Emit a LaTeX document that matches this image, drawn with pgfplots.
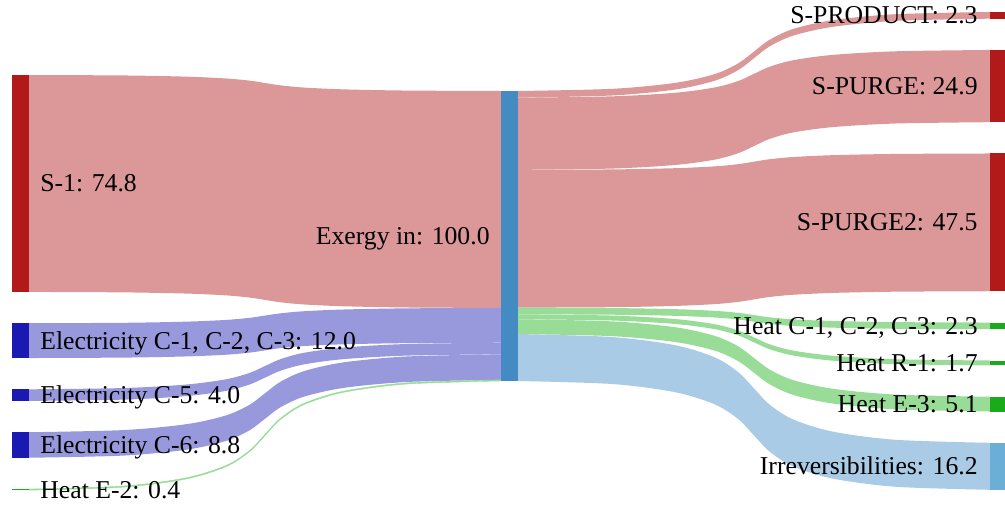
\documentclass[border=0pt]{standalone}
\usepackage{pgfplots}
\pgfplotsset{compat=1.18}
\usepackage{pgfplotstable}
\usepgfplotslibrary{fillbetween}
\usepackage{fontspec}
\setmainfont{Liberation Serif}
\definecolor{redlink}{HTML}{DC9898}
\definecolor{bluelink}{HTML}{9898DC}
\definecolor{greenlink}{HTML}{98DC98}
\definecolor{irrlink}{HTML}{AACBE5}
\definecolor{rednode}{HTML}{B21A1A}
\definecolor{bluenode}{HTML}{1A1AB2}
\definecolor{greennode}{HTML}{1AAA1A}
\definecolor{midnode}{HTML}{448BC3}
\definecolor{irrnode}{HTML}{6BAED6}
\newcommand{\lab}{\fontsize{12.85pt}{15pt}\selectfont}

% incoming links: x, top and bottom edge of each band (pixel units, y downward)
\pgfplotstableread{
x     s1t   s1b    e1t    e1b    e5t    e5b    e6t    e6b    h2t    h2b
29    75    291.92 323.22 358.02 389.32 400.92 432.22 457.74 489.04 490.20
123.8 75.45 292.37 322.79 357.59 388.02 399.62 430.04 455.56 485.98 487.14
186.8 76.66 293.58 321.63 356.43 384.47 396.07 424.12 449.64 477.68 478.84
226.1 78.46 295.38 319.92 354.72 379.25 390.85 415.39 440.91 465.45 466.61
249.5 80.63 297.55 317.83 352.63 372.92 384.52 404.80 430.32 450.60 451.76
265   83.00 299.92 315.57 350.37 366.02 377.62 393.27 418.79 434.44 435.60
280.5 85.37 302.29 313.31 348.11 359.12 370.72 381.74 407.26 418.28 419.44
303.9 87.54 304.46 311.22 346.02 352.79 364.39 371.15 396.67 403.43 404.59
343.2 89.34 306.26 309.51 344.31 347.57 359.17 362.42 387.94 391.20 392.36
406.2 90.55 307.47 308.35 343.15 344.02 355.62 356.50 382.02 382.90 384.06
501   91.00 307.92 307.92 342.72 342.72 354.32 354.32 379.84 379.84 381.00
}\inflows

% outgoing links
\pgfplotstableread{
x     pt    pb    gt    gb     qt     qb     ct     cb     rt     rb     et     eb     it     ib
518   91.00 97.67 97.67 169.88 169.88 307.63 307.63 314.30 314.30 319.23 319.23 334.02 334.02 381.00
612.8 88.79 95.46 96.33 168.54 169.42 307.17 308.05 314.72 315.59 320.52 321.40 336.19 337.07 384.05
675.8 82.78 89.45 92.71 164.92 168.17 305.92 309.18 315.85 319.10 324.03 327.29 342.08 345.34 392.32
715.1 73.94 80.61 87.37 159.58 166.34 304.09 310.85 317.52 324.28 329.21 335.97 350.76 357.52 404.50
738.5 63.19 69.86 80.88 153.09 164.11 301.86 312.87 319.54 330.56 335.49 346.51 361.30 372.32 419.30
754   51.50 58.17 73.82 146.03 161.68 299.43 315.08 321.75 337.40 342.33 357.98 372.77 388.42 435.40
769.5 39.81 46.48 66.76 138.97 159.25 297.00 317.29 323.96 344.24 349.17 369.45 384.24 404.52 451.50
792.9 29.06 35.73 60.27 132.48 157.02 294.77 319.31 325.98 350.52 355.45 379.99 394.78 419.32 466.30
832.2 20.22 26.89 54.93 127.14 155.19 292.94 320.98 327.65 355.70 360.63 388.67 403.46 431.50 478.48
895.2 14.21 20.88 51.31 123.52 153.94 291.69 322.11 328.78 359.21 364.14 394.56 409.35 439.77 486.75
990   12.00 18.67 49.97 122.18 153.48 291.23 322.53 329.20 360.50 365.43 396.73 411.52 442.82 489.80
}\outflows

\newcommand{\band}[3]{%
  \addplot[name path=#1top, draw=none, smooth, forget plot] table[x=x, y=#1t] {#2};
  \addplot[name path=#1bot, draw=none, smooth, forget plot] table[x=x, y=#1b] {#2};
  \addplot[fill=#3, draw=none, forget plot] fill between[of=#1top and #1bot];
}
\newcommand{\nodebox}[5]{%
  \addplot[fill=#5, draw=none, forget plot] coordinates {(#1,#3) (#2,#3) (#2,#4) (#1,#4)} -- cycle;
}

\begin{document}
\begin{tikzpicture}
\begin{axis}[
  scale only axis, width=502.5pt, height=252.5pt,
  xmin=0, xmax=1005, ymin=0, ymax=505, y dir=reverse,
  hide axis, clip=false,
]
\addplot[draw=none, forget plot] coordinates {(0,0) (1005,505)};
% links
\band{s1}{\inflows}{redlink}
\band{e1}{\inflows}{bluelink}
\band{e5}{\inflows}{bluelink}
\band{e6}{\inflows}{bluelink}
\addplot[name path=h2top, draw=none, smooth, forget plot] table[x=x, y=h2t] {\inflows};
\addplot[name path=h2bot, draw=none, smooth, forget plot] table[x=x, y=h2b] {\inflows};
\addplot[fill=greenlink, draw=greenlink, line width=0.2pt, forget plot] fill between[of=h2top and h2bot];
\band{p}{\outflows}{redlink}
\band{g}{\outflows}{redlink}
\band{q}{\outflows}{redlink}
\band{c}{\outflows}{greenlink}
\band{r}{\outflows}{greenlink}
\band{e}{\outflows}{greenlink}
\band{i}{\outflows}{irrlink}
% nodes
\nodebox{12}{29}{75}{291.92}{rednode}
\nodebox{12}{29}{323.22}{358.02}{bluenode}
\nodebox{12}{29}{389.32}{400.92}{bluenode}
\nodebox{12}{29}{432.22}{457.74}{bluenode}
\nodebox{12}{29}{489.04}{490.20}{greennode}
\nodebox{501}{518}{91}{381}{midnode}
\nodebox{990}{1005}{12}{18.67}{rednode}
\nodebox{990}{1005}{49.97}{122.18}{rednode}
\nodebox{990}{1005}{153.48}{291.23}{rednode}
\nodebox{990}{1005}{322.53}{329.20}{greennode}
\nodebox{990}{1005}{360.50}{365.43}{greennode}
\nodebox{990}{1005}{396.73}{411.52}{greennode}
\nodebox{990}{1005}{442.82}{489.80}{irrnode}
% labels
\begin{scope}[every node/.style={inner sep=0pt, font=\lab}]
\node[anchor=base west] at (axis cs:40,191.96) {S-1: 74.8};
\node[anchor=base west] at (axis cs:40,349.12) {Electricity C-1, C-2, C-3: 12.0};
\node[anchor=base west] at (axis cs:40,403.62) {Electricity C-5: 4.0};
\node[anchor=base west] at (axis cs:40,453.48) {Electricity C-6: 8.8};
\node[anchor=base west] at (axis cs:40,498.12) {Heat E-2: 0.4};
\node[anchor=base east] at (axis cs:490,244.5) {Exergy in: 100.0};
\node[anchor=base east] at (axis cs:978,23.83) {S-PRODUCT: 2.3};
\node[anchor=base east] at (axis cs:978,94.58) {S-PURGE: 24.9};
\node[anchor=base east] at (axis cs:978,230.86) {S-PURGE2: 47.5};
\node[anchor=base east] at (axis cs:978,334.37) {Heat C-1, C-2, C-3: 2.3};
\node[anchor=base east] at (axis cs:978,371.47) {Heat R-1: 1.7};
\node[anchor=base east] at (axis cs:978,412.63) {Heat E-3: 5.1};
\node[anchor=base east] at (axis cs:978,474.81) {Irreversibilities: 16.2};
\end{scope}
\end{axis}
\end{tikzpicture}
\end{document}
